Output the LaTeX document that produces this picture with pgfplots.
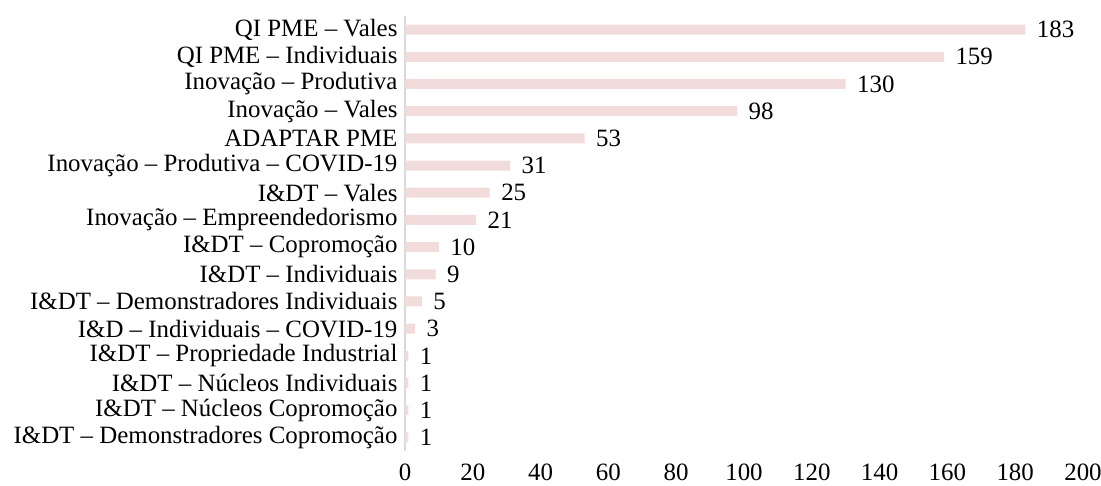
\documentclass[border=0pt]{standalone}
\usepackage{pgfplots}
\pgfplotsset{compat=1.18}
\usepackage{fontspec}
\setmainfont{Liberation Serif}
\definecolor{barpink}{HTML}{F2DCDB}
\definecolor{axisgray}{HTML}{D9D9D9}
\begin{document}
\begin{tikzpicture}
\useasboundingbox (-405bp,-35bp) rectangle (696bp,451bp);
\begin{axis}[
    scale only axis,
    width=678bp,
    height=435bp,
    xbar,
    bar width=10bp,
    bar shift=0pt,
    xmin=0, xmax=200,
    ymin=-0.5, ymax=15.5,
    xtick={0,20,...,200},
    ytick={0,...,15},
    yticklabels={
        I\&DT – Demonstradores Copromoção,
        I\&DT – Núcleos Copromoção,
        I\&DT – Núcleos Individuais,
        I\&DT – Propriedade Industrial,
        I\&D – Individuais – COVID-19,
        I\&DT – Demonstradores Individuais,
        I\&DT – Individuais,
        I\&DT – Copromoção,
        Inovação – Empreendedorismo,
        I\&DT – Vales,
        Inovação – Produtiva – COVID-19,
        ADAPTAR PME,
        Inovação – Vales,
        Inovação – Produtiva,
        QI PME – Individuais,
        QI PME – Vales},
    axis lines*=left,
    x axis line style={draw=none},
    y axis line style={draw=axisgray, line width=1.5bp},
    major tick length=0pt,
    tick label style={font=\fontsize{25}{28}\selectfont},
    /pgf/number format/assume math mode=true,
    xticklabel style={yshift=-12bp, inner sep=1bp},
    yticklabel style={xshift=-4bp},
    nodes near coords,
    every node near coord/.append style={font=\fontsize{25}{28}\selectfont, black, xshift=8bp},
]
\addplot[fill=barpink, draw=none] coordinates {
    (1,0) (1,1) (1,2) (1,3) (3,4) (5,5) (9,6) (10,7)
    (21,8) (25,9) (31,10) (53,11) (98,12) (130,13) (159,14) (183,15)
};
\end{axis}
\end{tikzpicture}
\end{document}
